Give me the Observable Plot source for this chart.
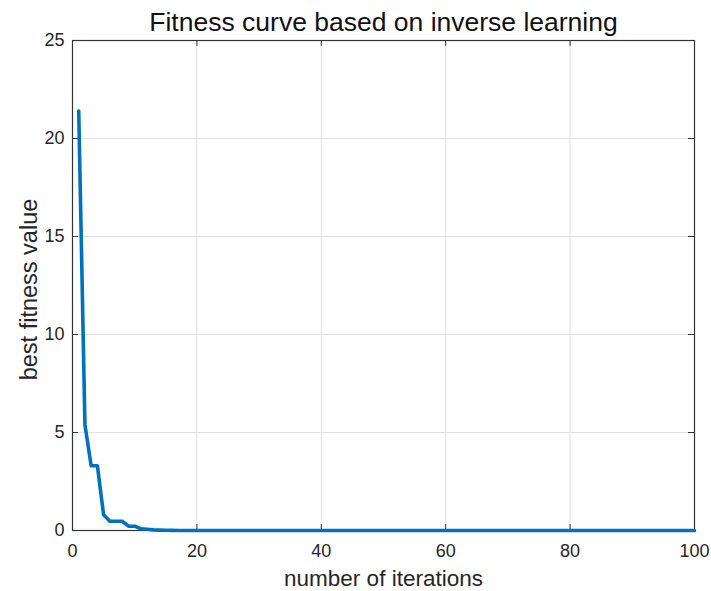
<!DOCTYPE html>
<html>
<head>
<meta charset="utf-8">
<script src="https://cdn.jsdelivr.net/npm/d3@7"></script>
<script src="https://cdn.jsdelivr.net/npm/@observablehq/plot@0.6"></script>
<style>
  html, body { margin: 0; padding: 0; background: #fff; }
  #chart { width: 711px; height: 591px; }
</style>
</head>
<body>
<div id="chart"></div>
<script>
// Best fitness value recorded at each iteration (1..100)
const bestFitness = [
  21.4, 5.4, 3.3, 3.3, 0.8, 0.47, 0.47, 0.47, 0.22, 0.22,
  0.09, 0.06, 0.03, 0.02, 0.01, 0.005, 0, 0, 0, 0,
  0, 0, 0, 0, 0, 0, 0, 0, 0, 0,
  0, 0, 0, 0, 0, 0, 0, 0, 0, 0,
  0, 0, 0, 0, 0, 0, 0, 0, 0, 0,
  0, 0, 0, 0, 0, 0, 0, 0, 0, 0,
  0, 0, 0, 0, 0, 0, 0, 0, 0, 0,
  0, 0, 0, 0, 0, 0, 0, 0, 0, 0,
  0, 0, 0, 0, 0, 0, 0, 0, 0, 0,
  0, 0, 0, 0, 0, 0, 0, 0, 0, 0
];
const iterations = bestFitness.map((_, i) => i + 1);

const xTicks = [0, 20, 40, 60, 80, 100];
const yTicks = [0, 5, 10, 15, 20, 25];
const xGrid = [20, 40, 60, 80];
const yGrid = [5, 10, 15, 20];

const titleText = "Fitness curve based on inverse learning";
const xLabelText = "number of iterations";
const yLabelText = "best fitness value";

const series = iterations.map((it, i) => ({iteration: it, value: bestFitness[i]}));

const W = 711, H = 591;
const mL = 72, mR = 17, mT = 40, mB = 61;
const frameW = W - mL - mR, frameH = H - mT - mB;
const tickLen = 6;
const axisColor = "#333333";
const font = "'Liberation Sans', Arial, Helvetica, sans-serif";

const chart = Plot.plot({
  width: W,
  height: H,
  marginLeft: mL,
  marginRight: mR,
  marginTop: mT,
  marginBottom: mB,
  style: {fontFamily: font, background: "#fff", color: "#262626"},
  x: {domain: [0, 100], axis: null},
  y: {domain: [0, 25], axis: null},
  marks: [
    Plot.gridX(xGrid, {stroke: "#e2e2e2", strokeOpacity: 1}),
    Plot.gridY(yGrid, {stroke: "#e2e2e2", strokeOpacity: 1}),
    Plot.frame({stroke: axisColor, strokeWidth: 1.2}),
    // inward tick marks on all four sides
    Plot.ruleX(xTicks, {x: d => d, insetTop: frameH - tickLen, stroke: axisColor}),
    Plot.ruleX(xTicks, {x: d => d, insetBottom: frameH - tickLen, stroke: axisColor}),
    Plot.ruleY(yTicks, {y: d => d, insetRight: frameW - tickLen, stroke: axisColor}),
    Plot.ruleY(yTicks, {y: d => d, insetLeft: frameW - tickLen, stroke: axisColor}),
    Plot.axisX(xTicks, {tickSize: 0, tickPadding: 14, fontSize: 18, fill: "#262626", label: null}),
    Plot.axisY(yTicks, {tickSize: 0, tickPadding: 8, fontSize: 18, fill: "#262626", label: null}),
    Plot.line(series, {x: "iteration", y: "value", stroke: "#0072BD", strokeWidth: 3.6, strokeLinejoin: "round"}),
    Plot.text([titleText], {frameAnchor: "top", dy: -17.5, lineAnchor: "middle", textAnchor: "middle", fontSize: 26.5, fill: "#111"}),
    Plot.text([xLabelText], {frameAnchor: "bottom", dy: 48, lineAnchor: "middle", textAnchor: "middle", fontSize: 22.5, fill: "#262626"}),
    Plot.text([yLabelText], {frameAnchor: "left", dx: -43, dy: 4, rotate: -90, lineAnchor: "middle", textAnchor: "middle", fontSize: 23.5, fill: "#262626"})
  ]
});

document.getElementById("chart").appendChild(chart);
</script>
</body>
</html>
